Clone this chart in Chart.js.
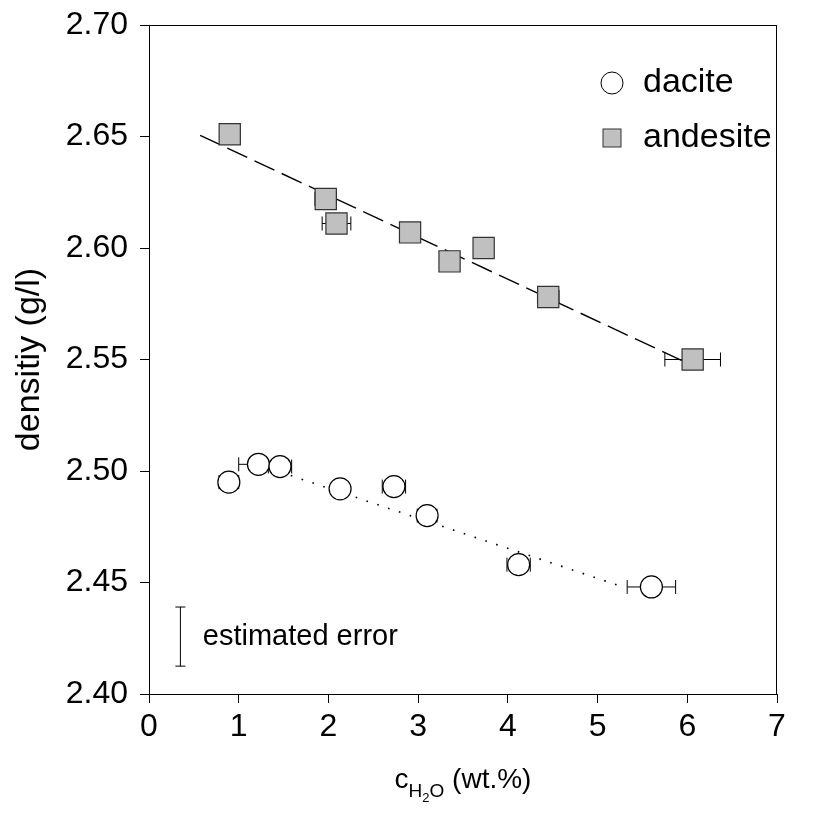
<!DOCTYPE html>
<html>
<head>
<meta charset="utf-8">
<script src="https://cdn.jsdelivr.net/npm/chart.js@4.4.0/dist/chart.umd.min.js"></script>
<style>
    body { margin: 0; background: #ffffff; }
    canvas { display: block; }
</style>
</head>
<body>
<canvas id="densityChart" width="819" height="817"></canvas>
<script>
// dacite samples: water content (wt.%), density, x error
const daciteWater = [0.89, 1.22, 1.46, 2.13, 2.73, 3.10, 4.12, 5.60];
const daciteDensity = [2.495, 2.503, 2.502, 2.492, 2.493, 2.480, 2.458, 2.448];
const daciteWaterError = [0.11, 0.22, 0.13, 0, 0.13, 0.11, 0.13, 0.27];

// andesite samples
const andesiteWater = [0.90, 1.97, 2.09, 2.91, 3.35, 3.73, 4.45, 6.06];
const andesiteDensity = [2.651, 2.622, 2.611, 2.607, 2.594, 2.600, 2.578, 2.550];
const andesiteWaterError = [0.08, 0.12, 0.16, 0, 0, 0, 0.12, 0.31];

// fit lines (end points)
const andesiteFitX = [0.57, 6.02];
const andesiteFitY = [2.6505, 2.548];
const daciteFitX = [1.46, 5.30];
const daciteFitY = [2.4996, 2.4478];

// estimated error marker
const estErrorX = 0.35;
const estErrorY = [2.4125, 2.439];
const estErrorLabel = 'estimated error';
const estErrorLabelX = 0.60;

const xTicks = [0, 1, 2, 3, 4, 5, 6, 7];
const yTicks = [2.40, 2.45, 2.50, 2.55, 2.60, 2.65, 2.70];

const legendLabels = ['dacite', 'andesite'];

const FONT = '"Liberation Sans", Arial, sans-serif';
const SQUARE_FILL = '#c0c0c0';
const SQUARE_EDGE = '#333333';

function toPoints(xs, ys) {
    return xs.map((x, i) => ({ x: x, y: ys[i] }));
}

function drawErrorBars(ctx, xScale, yScale, xs, ys, errors) {
    xs.forEach((x, i) => {
        if (!errors[i]) {
            return;
        }
        const left = xScale.getPixelForValue(x - errors[i]);
        const right = xScale.getPixelForValue(x + errors[i]);
        const py = yScale.getPixelForValue(ys[i]);

        ctx.beginPath();
        ctx.moveTo(left, py);
        ctx.lineTo(right, py);
        ctx.moveTo(left, py - 7);
        ctx.lineTo(left, py + 7);
        ctx.moveTo(right, py - 7);
        ctx.lineTo(right, py + 7);
        ctx.stroke();
    });
}

const errorBarPlugin = {
    id: 'errorBars',
    beforeDatasetsDraw(chart) {
        const { ctx } = chart;
        const xScale = chart.scales.x;
        const yScale = chart.scales.y;

        ctx.save();
        ctx.strokeStyle = '#000000';
        ctx.lineWidth = 1;
        drawErrorBars(ctx, xScale, yScale, daciteWater, daciteDensity, daciteWaterError);
        drawErrorBars(ctx, xScale, yScale, andesiteWater, andesiteDensity, andesiteWaterError);
        ctx.restore();
    }
};

const decorationPlugin = {
    id: 'decorations',
    afterDraw(chart) {
        const { ctx, chartArea } = chart;
        const xScale = chart.scales.x;
        const yScale = chart.scales.y;

        ctx.save();

        // frame
        ctx.strokeStyle = '#000000';
        ctx.lineWidth = 1;
        ctx.strokeRect(chartArea.left + 0.5, chartArea.top + 0.5,
            chartArea.right - chartArea.left - 1, chartArea.bottom - chartArea.top);

        // estimated error bar
        const ex = xScale.getPixelForValue(estErrorX);
        const eLow = yScale.getPixelForValue(estErrorY[0]);
        const eHigh = yScale.getPixelForValue(estErrorY[1]);
        ctx.beginPath();
        ctx.moveTo(ex, eLow);
        ctx.lineTo(ex, eHigh);
        ctx.moveTo(ex - 5, eLow);
        ctx.lineTo(ex + 5, eLow);
        ctx.moveTo(ex - 5, eHigh);
        ctx.lineTo(ex + 5, eHigh);
        ctx.stroke();

        ctx.fillStyle = '#000000';
        ctx.textBaseline = 'middle';
        ctx.textAlign = 'left';
        ctx.font = '29px ' + FONT;
        ctx.fillText(estErrorLabel, xScale.getPixelForValue(estErrorLabelX), (eLow + eHigh) / 2);

        // legend
        const lx = chartArea.right - 165;
        const ly1 = chartArea.top + 58;
        const ly2 = chartArea.top + 113;

        ctx.beginPath();
        ctx.arc(lx, ly1, 11, 0, Math.PI * 2);
        ctx.fillStyle = '#ffffff';
        ctx.fill();
        ctx.strokeStyle = '#000000';
        ctx.stroke();

        ctx.fillStyle = SQUARE_FILL;
        ctx.fillRect(lx - 9, ly2 - 9, 18, 18);
        ctx.strokeStyle = SQUARE_EDGE;
        ctx.strokeRect(lx - 9, ly2 - 9, 18, 18);

        ctx.fillStyle = '#000000';
        ctx.font = '34px ' + FONT;
        ctx.fillText(legendLabels[0], lx + 31, ly1);
        ctx.fillText(legendLabels[1], lx + 31, ly2);

        // y axis title
        ctx.save();
        ctx.translate(30, (chartArea.top + chartArea.bottom) / 2);
        ctx.rotate(-Math.PI / 2);
        ctx.textAlign = 'center';
        ctx.font = '34px ' + FONT;
        ctx.fillText('densitiy (g/l)', 0, 0);
        ctx.restore();

        // x axis title with subscripts
        const parts = [
            { text: 'c', size: 28, dy: 0 },
            { text: 'H', size: 19, dy: 9 },
            { text: '2', size: 13, dy: 14 },
            { text: 'O', size: 19, dy: 9 },
            { text: ' (wt.%)', size: 28, dy: 0 }
        ];
        let total = 0;
        parts.forEach((part) => {
            ctx.font = part.size + 'px ' + FONT;
            total += ctx.measureText(part.text).width;
        });
        let cursor = (chartArea.left + chartArea.right) / 2 - total / 2;
        const baseY = 788;
        ctx.textBaseline = 'alphabetic';
        ctx.textAlign = 'left';
        parts.forEach((part) => {
            ctx.font = part.size + 'px ' + FONT;
            ctx.fillText(part.text, cursor, baseY + part.dy);
            cursor += ctx.measureText(part.text).width;
        });

        ctx.restore();
    }
};

const chartContext = document.getElementById('densityChart');

const densityChart = new Chart(chartContext, {
    type: 'scatter',
    data: {
        datasets: [
            {
                label: legendLabels[0],
                data: toPoints(daciteWater, daciteDensity),
                pointStyle: 'circle',
                pointRadius: 11,
                backgroundColor: '#ffffff',
                borderColor: '#000000',
                borderWidth: 1.2,
                order: 0
            },
            {
                label: legendLabels[1],
                data: toPoints(andesiteWater, andesiteDensity),
                pointStyle: 'rect',
                pointRadius: 15,
                backgroundColor: SQUARE_FILL,
                borderColor: SQUARE_EDGE,
                borderWidth: 1.2,
                order: 0
            },
            {
                label: 'andesite fit',
                data: toPoints(andesiteFitX, andesiteFitY),
                showLine: true,
                pointRadius: 0,
                borderColor: '#000000',
                borderWidth: 1.4,
                borderDash: [22, 8],
                order: 1
            },
            {
                label: 'dacite fit',
                data: toPoints(daciteFitX, daciteFitY),
                showLine: true,
                pointRadius: 0,
                borderColor: '#000000',
                borderWidth: 1.6,
                borderDash: [1.6, 9.8],
                order: 1
            }
        ]
    },
    options: {
        responsive: false,
        animation: false,
        layout: {
            padding: { left: 0, top: 25, right: 42, bottom: 0 }
        },
        plugins: {
            legend: { display: false },
            tooltip: { enabled: false }
        },
        scales: {
            x: {
                type: 'linear',
                min: xTicks[0],
                max: xTicks[xTicks.length - 1],
                afterFit: (scale) => {
                    scale.height = 123;
                    scale.paddingLeft = 0;
                    scale.paddingRight = 0;
                },
                afterBuildTicks: (scale) => {
                    scale.ticks = xTicks.map((v) => ({ value: v }));
                },
                grid: {
                    drawOnChartArea: false,
                    drawTicks: true,
                    tickLength: 9,
                    color: '#000000'
                },
                border: { display: true, color: '#000000' },
                ticks: {
                    color: '#000000',
                    font: { family: FONT, size: 32 },
                    padding: 5,
                    callback: (value) => String(value)
                }
            },
            y: {
                type: 'linear',
                min: yTicks[0],
                max: yTicks[yTicks.length - 1],
                afterFit: (scale) => {
                    scale.width = 149;
                    scale.paddingTop = 0;
                    scale.paddingBottom = 0;
                },
                afterBuildTicks: (scale) => {
                    scale.ticks = yTicks.map((v) => ({ value: v }));
                },
                grid: {
                    drawOnChartArea: false,
                    drawTicks: true,
                    tickLength: 9,
                    color: '#000000'
                },
                border: { display: true, color: '#000000' },
                ticks: {
                    color: '#000000',
                    font: { family: FONT, size: 32 },
                    padding: 12,
                    callback: (value) => Number(value).toFixed(2)
                }
            }
        }
    },
    plugins: [errorBarPlugin, decorationPlugin]
});
</script>
</body>
</html>
